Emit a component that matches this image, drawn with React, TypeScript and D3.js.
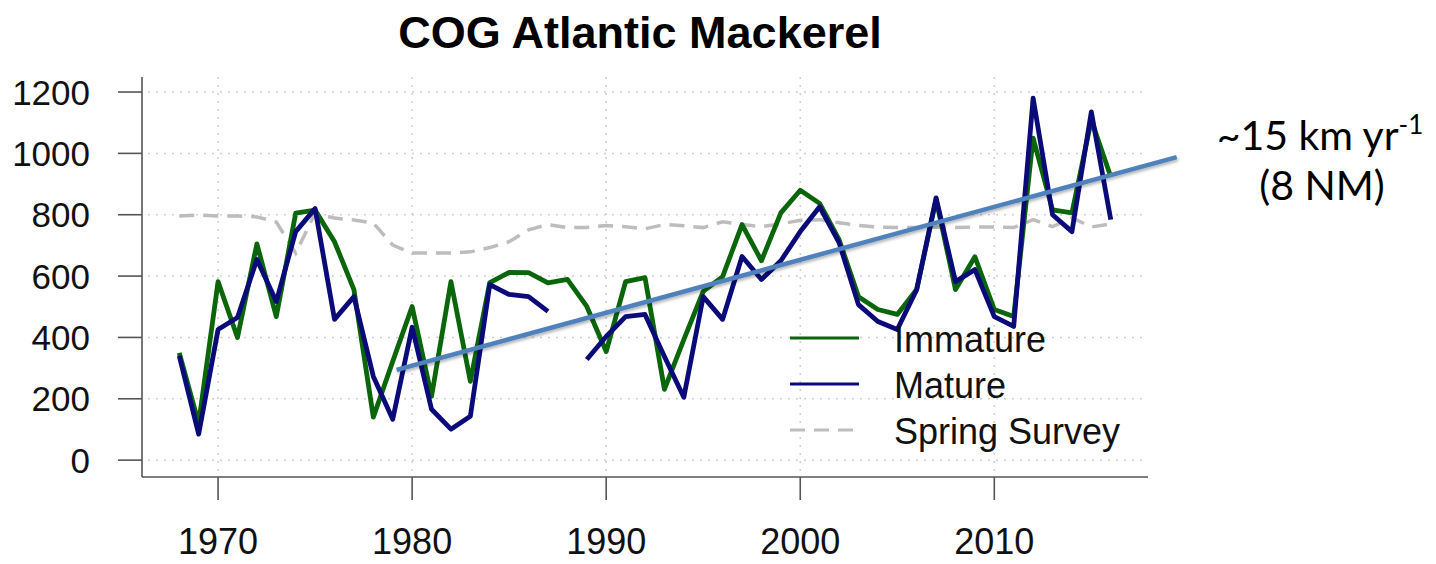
import React from "react";
import * as d3 from "d3";

// Centre-of-gravity series, 1968–2016
const years: number[] = d3.range(1968, 2017);

const immature: number[] = [
  350, 120, 582, 400, 705, 468, 805, 815, 712, 556,
  140, 322, 501, 208, 582, 257, 579, 612, 611, 578,
  589, 501, 354, 582, 595, 231, 393, 550, 598, 768,
  650, 806, 880, 837, 719, 533, 491, 475, 556, 849,
  556, 663, 491, 468, 1050, 816, 806, 1109, 924,
];

const mature: (number | null)[] = [
  340, 85, 426, 465, 654, 517, 745, 820, 459, 533,
  273, 133, 433, 166, 101, 143, 572, 540, 533, 485,
  null, 328, 403, 468, 475, 338, 205, 533, 459, 664,
  589, 650, 745, 826, 709, 507, 452, 426, 556, 855,
  582, 621, 468, 436, 1180, 800, 745, 1135, 784,
];

const springSurvey: number[] = [
  796, 799, 796, 796, 793, 776, 675, 805, 789, 783,
  773, 701, 675, 675, 675, 679, 693, 712, 751, 768,
  758, 758, 765, 761, 754, 768, 764, 758, 777, 768,
  761, 770, 782, 784, 774, 765, 760, 758, 758, 760,
  758, 760, 760, 758, 784, 761, 790, 760, 770,
];

// Fitted linear trend (start and end points)
const trendYears: number[] = [1979.2, 2019.4];
const trendValues: number[] = [294, 988];

const xTicks: number[] = [1970, 1980, 1990, 2000, 2010];
const yTicks: number[] = [0, 200, 400, 600, 800, 1000, 1200];

const legendLabels: string[] = ["Immature", "Mature", "Spring Survey"];

const W = 1436;
const H = 564;

const GREEN = "#0b650b";
const NAVY = "#0a0a78";
const GREY = "#bdbdbd";
const TREND = "#4f81bd";

export default function App() {
  const x = d3.scaleLinear().domain([1966.08, 2017.92]).range([142, 1148]);
  const y = d3.scaleLinear().domain([-55, 1249]).range([477, 77]);

  const line = d3
    .line<[number, number | null]>()
    .defined((d) => d[1] !== null)
    .x((d) => x(d[0]))
    .y((d) => y(d[1] as number));

  const pairs = (vals: (number | null)[]) =>
    years.map((yr, i) => [yr, vals[i]] as [number, number | null]);

  const trendPts = trendYears.map((yr, i) => [yr, trendValues[i]] as [number, number]);

  const legendStyles = [
    { stroke: GREEN, dash: undefined as string | undefined },
    { stroke: NAVY, dash: undefined as string | undefined },
    { stroke: GREY, dash: "15 9" },
  ];

  const [x0, x1] = x.range();
  const [yBottom, yTop] = y.range();

  return (
    <svg
      width={W}
      height={H}
      viewBox={`0 0 ${W} ${H}`}
      style={{ position: "absolute", left: 0, top: 0, background: "#fff" }}
      fontFamily="'Liberation Sans', Arial, sans-serif"
    >
      <defs>
        <filter id="trendShadow" x="-5%" y="-50%" width="110%" height="200%">
          <feDropShadow dx="1" dy="2" stdDeviation="1.5" floodColor="#000" floodOpacity="0.3" />
        </filter>
      </defs>

      <text x={640} y={48} textAnchor="middle" fontSize={45} fontWeight="bold" fill="#000">
        COG Atlantic Mackerel
      </text>

      {/* dotted grid */}
      <g stroke="#d0d0d0" strokeWidth={1.5} strokeDasharray="2 6">
        {yTicks.map((t) => (
          <line key={`gy${t}`} x1={x0 + 6} x2={x1} y1={y(t)} y2={y(t)} />
        ))}
        {xTicks.map((t) => (
          <line key={`gx${t}`} x1={x(t)} x2={x(t)} y1={yTop} y2={yBottom} />
        ))}
      </g>

      {/* axes */}
      <g stroke="#555" strokeWidth={1.6} fill="none">
        <line x1={x0} x2={x0} y1={yTop} y2={yBottom} />
        <line x1={x0} x2={x1} y1={yBottom} y2={yBottom} />
        {yTicks.map((t) => (
          <line key={`ty${t}`} x1={x0 - 24} x2={x0} y1={y(t)} y2={y(t)} />
        ))}
        {xTicks.map((t) => (
          <line key={`tx${t}`} x1={x(t)} x2={x(t)} y1={yBottom} y2={yBottom + 23} />
        ))}
      </g>
      <g fontSize={35} fill="#111" textAnchor="end">
        {yTicks.map((t) => (
          <text key={`ly${t}`} x={90} y={y(t) + 12.5}>
            {t}
          </text>
        ))}
      </g>
      <g fontSize={36} fill="#111" textAnchor="middle">
        {xTicks.map((t) => (
          <text key={`lx${t}`} x={x(t)} y={554}>
            {t}
          </text>
        ))}
      </g>

      {/* series */}
      <path
        d={line(pairs(springSurvey)) ?? ""}
        fill="none"
        stroke={GREY}
        strokeWidth={3.5}
        strokeDasharray="15 9"
      />
      <path
        d={line(pairs(immature)) ?? ""}
        fill="none"
        stroke={GREEN}
        strokeWidth={4.8}
        strokeLinejoin="round"
      />
      <path
        d={line(pairs(mature)) ?? ""}
        fill="none"
        stroke={NAVY}
        strokeWidth={4.8}
        strokeLinejoin="round"
      />

      {/* legend */}
      <g>
        {legendLabels.map((lab, i) => {
          const ly = 338 + i * 46;
          return (
            <g key={lab}>
              <line
                x1={790}
                x2={859}
                y1={ly}
                y2={ly}
                stroke={legendStyles[i].stroke}
                strokeWidth={3}
                strokeDasharray={legendStyles[i].dash}
              />
              <text x={894} y={ly + 14} fontSize={36} fill="#111">
                {lab}
              </text>
            </g>
          );
        })}
      </g>

      {/* trend */}
      <path
        d={d3.line()(trendPts.map((p) => [x(p[0]), y(p[1])] as [number, number])) ?? ""}
        stroke={TREND}
        strokeWidth={4.5}
        fill="none"
        filter="url(#trendShadow)"
      />

      <g fontFamily="Lato, 'Open Sans', sans-serif" fontSize={41} fill="#000" textAnchor="middle">
        <text x={1320} y={150}>
          ~15 km yr
          <tspan fontSize={26} dy={-16}>
            -1
          </tspan>
        </text>
        <text x={1322} y={200}>
          (8 NM)
        </text>
      </g>
    </svg>
  );
}
